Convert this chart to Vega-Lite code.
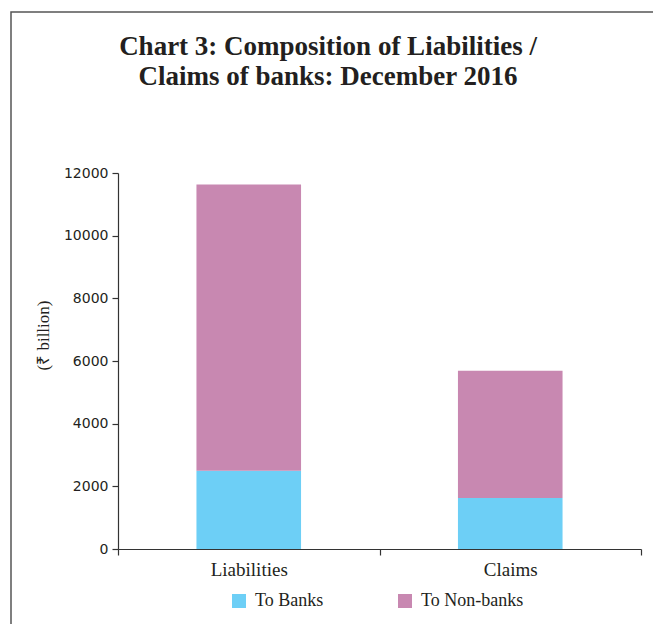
{
  "$schema": "https://vega.github.io/schema/vega-lite/v6.json",
  "autosize": "none",
  "padding": {"left": 11, "top": 12, "right": -2, "bottom": -2},
  "width": 644,
  "height": 614,
  "background": "white",
  "title": {
    "text": ["Chart 3: Composition of Liabilities /", "Claims of banks: December 2016"],
    "anchor": "middle",
    "frame": "group",
    "offset": -79,
    "dx": -5,
    "font": "Liberation Serif",
    "fontSize": 27,
    "fontWeight": "bold",
    "lineHeight": 30,
    "color": "#231f20"
  },
  "data": {
    "values": [
      {"category": "Liabilities", "type": "To Banks", "value": 2500},
      {"category": "Liabilities", "type": "To Non-banks", "value": 9130},
      {"category": "Claims", "type": "To Banks", "value": 1630},
      {"category": "Claims", "type": "To Non-banks", "value": 4060}
    ]
  },
  "mark": {"type": "bar", "width": {"band": 0.4}},
  "encoding": {
    "x": {
      "field": "category",
      "type": "nominal",
      "sort": ["Liabilities", "Claims"],
      "scale": {"range": [107, 630], "paddingInner": 0, "paddingOuter": 0},
      "axis": {
        "title": null,
        "orient": "bottom",
        "offset": -77,
        "labelAngle": 0,
        "tickBand": "extent",
        "tickSize": 6,
        "tickColor": "#333",
        "domainColor": "#333",
        "labelFont": "Liberation Serif",
        "labelFontSize": 19,
        "labelColor": "#231f20",
        "labelPadding": 5
      }
    },
    "y": {
      "field": "value",
      "type": "quantitative",
      "stack": "zero",
      "scale": {"domain": [0, 12000], "range": [537, 161], "nice": false},
      "axis": {
        "title": "(₹ billion)",
        "offset": -107,
        "values": [0, 2000, 4000, 6000, 8000, 10000, 12000],
        "format": "d",
        "grid": false,
        "tickSize": 6,
        "tickColor": "#333",
        "domainColor": "#333",
        "labelFont": "DejaVu Sans",
        "labelFontSize": 14,
        "labelColor": "#231f20",
        "labelPadding": 4,
        "titleFont": "Liberation Serif",
        "titleFontSize": 17,
        "titleFontWeight": "normal",
        "titleColor": "#231f20",
        "titleX": -66,
        "titleY": 323
      }
    },
    "color": {
      "field": "type",
      "type": "nominal",
      "scale": {"domain": ["To Banks", "To Non-banks"], "range": ["#6dcff6", "#c888b1"]},
      "legend": {
        "title": null,
        "orient": "none",
        "direction": "horizontal",
        "legendX": 219,
        "legendY": 580,
        "padding": 0,
        "symbolType": "square",
        "symbolSize": 196,
        "symbolStrokeWidth": 0,
        "symbolOpacity": 1,
        "labelFont": "Liberation Serif",
        "labelFontSize": 18,
        "labelColor": "#231f20",
        "labelOffset": 7,
        "columnPadding": 72
      }
    },
    "order": {"field": "type", "sort": "ascending"}
  },
  "config": {
    "view": {"stroke": "#555", "strokeWidth": 1.5},
    "axis": {"domainWidth": 1.2, "tickWidth": 1.2}
  }
}
